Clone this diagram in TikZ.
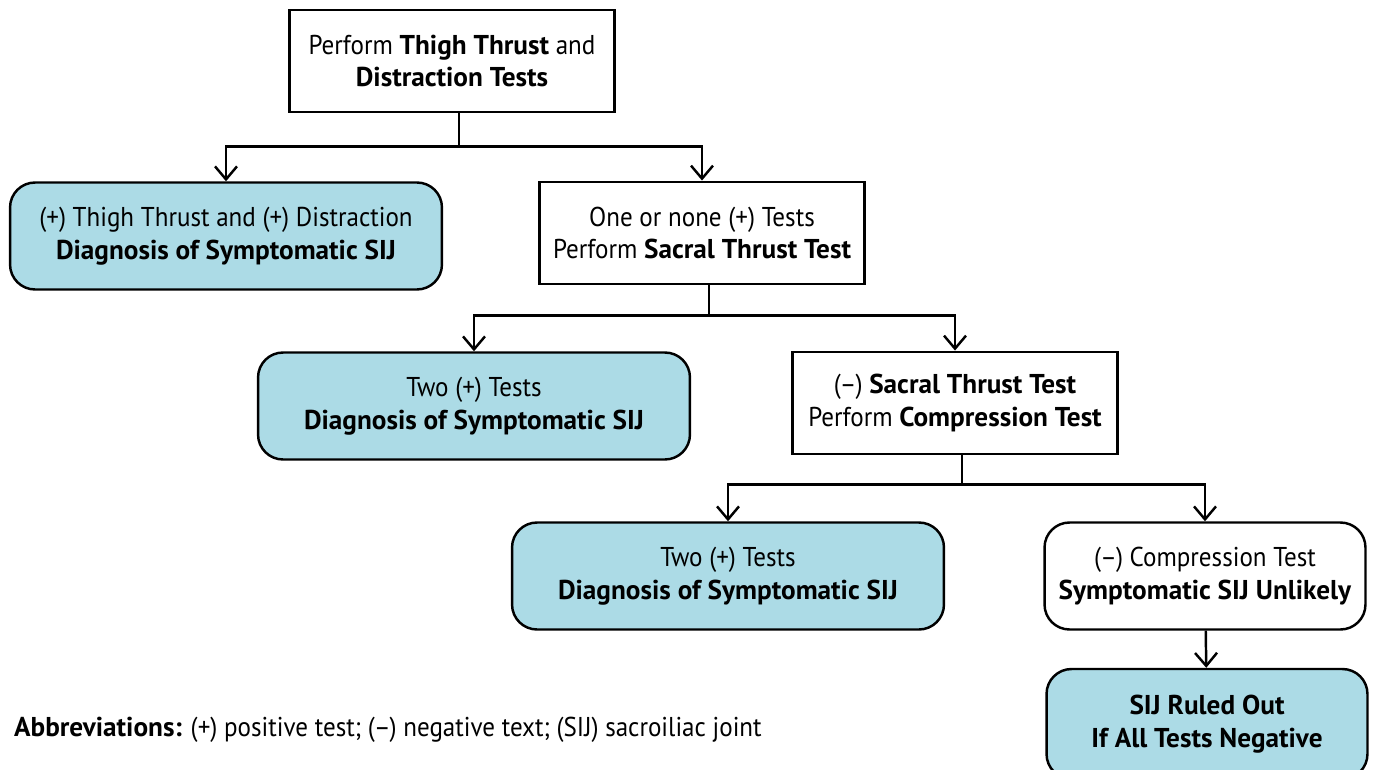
\documentclass[tikz,border=0pt]{standalone}
\usepackage{fontspec}
\setmainfont{PT Sans}[UprightFeatures={FakeStretch=0.92}]
\usetikzlibrary{arrows.meta}
\definecolor{sijblue}{RGB}{172,219,230}
\tikzset{
    testbox/.style={draw, line width=1.4pt, fill=white, align=center,
        minimum width=6.5cm, minimum height=2.05cm, inner sep=2pt},
    diagbox/.style={draw, line width=1.4pt, fill=sijblue, rounded corners=0.5cm,
        align=center, minimum width=8.64cm, minimum height=2.14cm, inner sep=2pt},
    outbox/.style={diagbox, fill=white, minimum width=6.42cm},
    arr/.style={line width=1.4pt, -{Straight Barb[length=2.6mm, width=4.4mm, line width=1.4pt]}}
}
\begin{document}
\begin{tikzpicture}[x=0.02cm, y=-0.02cm, font=\fontsize{15.5}{18.6}\selectfont]
    \clip (0,0) rectangle (1375,770);

    % tests performed
    \node[testbox] (thigh) at (452,61) {Perform \textbf{Thigh Thrust} and\\\textbf{Distraction Tests}};
    \node[testbox] (sacral) at (702,233) {One or none (+) Tests\\Perform \textbf{Sacral Thrust Test}};
    \node[testbox] (compr) at (955,403) {(--) \textbf{Sacral Thrust Test}\\Perform \textbf{Compression Test}};

    % outcomes
    \node[diagbox] (diagA) at (226,236) {(+) Thigh Thrust and (+) Distraction\\\textbf{Diagnosis of Symptomatic SIJ}};
    \node[diagbox] (diagB) at (474,406) {Two (+) Tests\\\textbf{Diagnosis of Symptomatic SIJ}};
    \node[diagbox] (diagC) at (728,576) {Two (+) Tests\\\textbf{Diagnosis of Symptomatic SIJ}};
    \node[outbox] (unlikely) at (1205,576) {(--) Compression Test\\\textbf{Symptomatic SIJ Unlikely}};
    \node[diagbox, minimum width=6.42cm, minimum height=2.2cm] (ruled) at (1207,724) {\textbf{SIJ Ruled Out}\\\textbf{If All Tests Negative}};

    % connectors
    \draw[arr] ([xshift=0.14cm]thigh.south) -- ++(0,33) coordinate (j1) -| (diagA.north);
    \draw[arr] (j1) -| (sacral.north);
    \draw[arr] ([xshift=0.14cm]sacral.south) -- ++(0,30) coordinate (j2) -| (diagB.north);
    \draw[arr] (j2) -| (compr.north);
    \draw[arr] ([xshift=0.14cm]compr.south) -- ++(0,29) coordinate (j3) -| (diagC.north);
    \draw[arr] (j3) -| (unlikely.north);
    \draw[arr] (unlikely) -- (ruled);

    \node[anchor=west] (abbr) at (8,730) {\textbf{Abbreviations:} (+) positive test; (--) negative text; (SIJ) sacroiliac joint};
\end{tikzpicture}
\end{document}
